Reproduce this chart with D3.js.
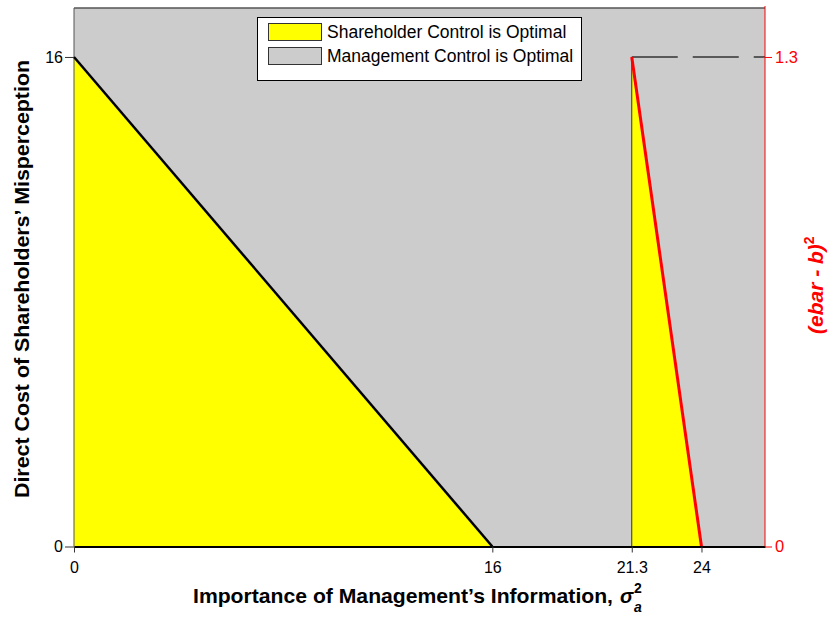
<!DOCTYPE html>
<html><head><meta charset="utf-8">
<script src="https://cdn.jsdelivr.net/npm/d3@7"></script>
<style>
body{margin:0;background:#fff;}
svg{display:block;font-family:"Liberation Sans",Arial,sans-serif;}
</style></head>
<body>
<svg id="chart" width="834" height="617"></svg>
<script>
// ---- data ----
const xDomain = [0, 26.43];
const yLeftDomain = [0, 17.6];
const yRightDomain = [0, 1.43];
const xTickValues = [0, 16, 64/3, 24];
const xTickLabels = ["0", "16", "21.3", "24"];
const leftTickValues = [0, 16];
const leftTickLabels = ["0", "16"];
const rightTickValues = [0, 1.3];
const rightTickLabels = ["0", "1.3"];
// shareholder-optimal region measured on left axis
const regionLeftX = [0, 0, 16];
const regionLeftY = [0, 16, 0];
// shareholder-optimal region measured on right axis
const regionRightX = [64/3, 64/3, 24];
const regionRightY = [0, 1.3, 0];
const boundaryLeft = [[0, 16], [16, 0]];
const boundaryRight = [[64/3, 1.3], [24, 0]];
const legendLabels = ["Shareholder Control is Optimal", "Management Control is Optimal"];
const legendColors = ["#ffff00", "#cccccc"];

// ---- layout ----
const svg = d3.select("#chart");
const L = 74, R = 765, T = 8, B = 546.5;
const x = d3.scaleLinear().domain(xDomain).range([L, R]);
const yL = d3.scaleLinear().domain(yLeftDomain).range([B, T]);
const yR = d3.scaleLinear().domain(yRightDomain).range([B, T]);

// background
svg.append("rect").attr("x", L).attr("y", T).attr("width", R - L).attr("height", B - T)
  .attr("fill", "#cccccc");

const line = d3.line();
// left region
svg.append("path")
  .attr("d", line(regionLeftX.map((v, i) => [x(v), yL(regionLeftY[i])])) + "Z")
  .attr("fill", "#ffff00");
// right region
svg.append("path")
  .attr("d", line(regionRightX.map((v, i) => [x(v), yR(regionRightY[i])])) + "Z")
  .attr("fill", "#ffff00");

// borders
svg.append("line").attr("x1", L).attr("x2", R).attr("y1", T).attr("y2", T)
  .attr("stroke", "#555").attr("stroke-width", 1.5);
svg.append("line").attr("x1", L).attr("x2", L).attr("y1", T).attr("y2", B)
  .attr("stroke", "#555").attr("stroke-width", 1);

// vertical line at 21.3
svg.append("line").attr("x1", x(64/3)).attr("x2", x(64/3))
  .attr("y1", yR(0)).attr("y2", yR(1.3))
  .attr("stroke", "#333").attr("stroke-width", 1);
// dashed line at 1.3
svg.append("line").attr("x1", x(64/3)).attr("x2", x(xDomain[1]))
  .attr("y1", yR(1.3)).attr("y2", yR(1.3))
  .attr("stroke", "#333").attr("stroke-width", 1.5).attr("stroke-dasharray", "46,15");

// boundary lines
svg.append("path").attr("d", line(boundaryLeft.map(d => [x(d[0]), yL(d[1])])))
  .attr("stroke", "#000").attr("stroke-width", 2.5).attr("fill", "none");
svg.append("path").attr("d", line(boundaryRight.map(d => [x(d[0]), yR(d[1])])))
  .attr("stroke", "#ff0000").attr("stroke-width", 3).attr("fill", "none");

// bottom axis
const xAxis = d3.axisBottom(x).tickValues(xTickValues)
  .tickFormat((d, i) => xTickLabels[i]).tickSize(6).tickPadding(9.5).tickSizeOuter(0);
const gx = svg.append("g").attr("transform", `translate(0,${B})`).call(xAxis);
gx.select(".domain").attr("stroke", "#000").attr("stroke-width", 2);
gx.selectAll(".tick line").attr("stroke", "#333");
gx.selectAll("text").attr("font-size", 16).attr("font-family", "Liberation Sans, Arial").attr("fill", "#000");

// left axis
const yAxisL = d3.axisLeft(yL).tickValues(leftTickValues)
  .tickFormat((d, i) => leftTickLabels[i]).tickSize(9).tickPadding(2).tickSizeOuter(0);
const gyl = svg.append("g").attr("transform", `translate(${L},0)`).call(yAxisL);
gyl.select(".domain").remove();
gyl.selectAll(".tick line").attr("stroke", "#333");
gyl.selectAll("text").attr("font-size", 16).attr("font-family", "Liberation Sans, Arial").attr("fill", "#000");

// right axis
const yAxisR = d3.axisRight(yR).tickValues(rightTickValues)
  .tickFormat((d, i) => rightTickLabels[i]).tickSize(7).tickPadding(3).tickSizeOuter(0);
const gyr = svg.append("g").attr("transform", `translate(${R},0)`).call(yAxisR);
gyr.select(".domain").remove();
svg.append("line").attr("x1", R).attr("x2", R).attr("y1", 6).attr("y2", B)
  .attr("stroke", "#ff0000").attr("stroke-width", 1);
gyr.selectAll(".tick line").attr("stroke", "#ff0000");
gyr.selectAll("text").attr("font-size", 16.5).attr("font-family", "Liberation Sans, Arial").attr("fill", "#ff0000");

// x-axis title
svg.append("text").attr("x", 193).attr("y", 603)
  .attr("font-size", 21).attr("font-weight", "bold")
  .attr("textLength", 420).attr("lengthAdjust", "spacingAndGlyphs")
  .text("Importance of Management\u2019s Information,");
svg.append("text").attr("x", 620).attr("y", 603).attr("font-size", 20)
  .attr("font-weight", "bold").attr("font-style", "italic").text("\u03c3");
svg.append("text").attr("x", 634).attr("y", 593).attr("font-size", 14)
  .attr("font-weight", "bold").text("2");
svg.append("text").attr("x", 634).attr("y", 612).attr("font-size", 14)
  .attr("font-weight", "bold").attr("font-style", "italic").text("a");

// left y title
svg.append("text").attr("transform", "translate(29,498) rotate(-90)")
  .attr("font-size", 21).attr("font-weight", "bold")
  .attr("textLength", 438).attr("lengthAdjust", "spacingAndGlyphs")
  .text("Direct Cost of Shareholders\u2019 Misperception");

// right y title
const rt = svg.append("text").attr("transform", "translate(823,334) rotate(-90)")
  .attr("font-size", 21).attr("font-weight", "bold").attr("font-style", "italic")
  .attr("fill", "#ff0000");
rt.append("tspan").text("(ebar - ");
rt.append("tspan").text("b");
rt.append("tspan").text(")");
rt.append("tspan").attr("dy", -9).attr("font-size", 14).attr("font-style", "normal").text("2");

// legend
const lg = svg.append("g");
lg.append("rect").attr("x", 257.5).attr("y", 17.5).attr("width", 324).attr("height", 63)
  .attr("fill", "#fff").attr("stroke", "#000").attr("stroke-width", 1);
legendLabels.forEach((lab, i) => {
  const yy = 23.5 + i * 24;
  lg.append("rect").attr("x", 268.5).attr("y", yy).attr("width", 53).attr("height", 17)
    .attr("fill", legendColors[i]).attr("stroke", "#333").attr("stroke-width", 1);
  lg.append("text").attr("x", 327).attr("y", yy + 14).attr("font-size", 17.5)
    .attr("fill", "#000").text(lab);
});
</script>
</body></html>
